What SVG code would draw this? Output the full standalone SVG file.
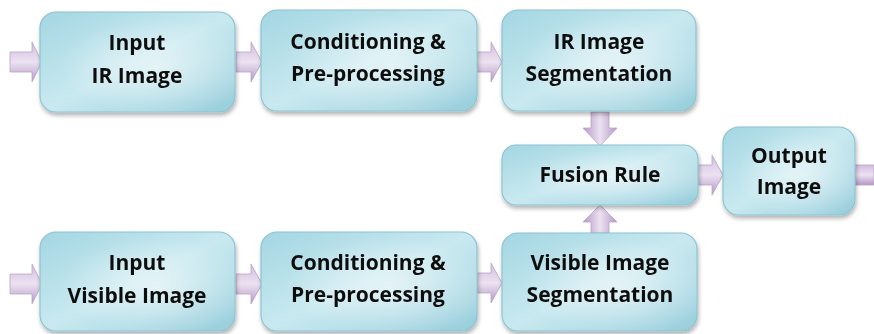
<svg xmlns="http://www.w3.org/2000/svg" width="874" height="334" viewBox="0 0 874 334">
<style>
.box{fill:url(#bg);stroke:#8cc3d0;stroke-width:1.2}
.hl{fill:url(#hl)}
.arr{fill:url(#ag);stroke:#b9a3c8;stroke-width:0.8}
.t{font-family:"Open Sans","Noto Sans",sans-serif;font-weight:700;font-size:21px;fill:#111;text-anchor:middle}
</style>
<defs>
<linearGradient id="bg" x1="0" y1="0" x2="1" y2="1">
<stop offset="0" stop-color="#a3d6e2"/>
<stop offset="0.5" stop-color="#c9e9f0"/>
<stop offset="1" stop-color="#96cddb"/>
</linearGradient>
<radialGradient id="hl" cx="0.6" cy="0.55" r="0.5">
<stop offset="0" stop-color="#ffffff" stop-opacity="0.55"/>
<stop offset="1" stop-color="#ffffff" stop-opacity="0"/>
</radialGradient>
<linearGradient id="ag" x1="0" y1="0" x2="0" y2="1">
<stop offset="0" stop-color="#d2bddf"/>
<stop offset="0.5" stop-color="#ece2f1"/>
<stop offset="1" stop-color="#b597c7"/>
</linearGradient>
<linearGradient id="agv" x1="0" y1="0" x2="1" y2="0">
<stop offset="0" stop-color="#b597c7"/>
<stop offset="0.5" stop-color="#ece2f1"/>
<stop offset="1" stop-color="#b597c7"/>
</linearGradient>
<filter id="sh" x="-10%" y="-10%" width="120%" height="130%">
<feGaussianBlur in="SourceAlpha" stdDeviation="2"/>
<feOffset dx="1" dy="3"/>
<feComponentTransfer><feFuncA type="linear" slope="0.3"/></feComponentTransfer>
<feMerge><feMergeNode/><feMergeNode in="SourceGraphic"/></feMerge>
</filter>
</defs>
<g id="connectors">
<path class="arr" d="M10,52 H32 V42 L42,62 L32,82 V72 H10 Z"/>
<path class="arr" d="M236,52 H251 V42 L262,62 L251,82 V72 H236 Z"/>
<path class="arr" d="M477,52 H491 V42 L502,62 L491,82 V72 H477 Z"/>
<path class="arr" style="fill:url(#agv)" d="M591,112 V128 H583 L600,146 L617,128 H609 V112 Z"/>
<path class="arr" d="M698,165 H712 V155 L723,175 L712,195 V185 H698 Z"/>
<path class="arr" d="M855,165 H874 V185 H855 Z"/>
<path class="arr" style="fill:url(#agv)" d="M591,233 V222 H583 L600,205 L617,222 H609 V233 Z"/>
<path class="arr" d="M10,274 H32 V264 L42,284 L32,304 V294 H10 Z"/>
<path class="arr" d="M236,274 H251 V264 L262,284 L251,304 V294 H236 Z"/>
<path class="arr" d="M477,273 H491 V263 L502,283 L491,303 V293 H477 Z"/>
</g>
<g id="n1" filter="url(#sh)"><rect class="box" x="40" y="12" width="195" height="100" rx="16"/><rect class="hl" x="40" y="12" width="195" height="100" rx="16"/>
<text class="t" x="137" y="50">Input</text><text class="t" x="137" y="83">IR Image</text></g>
<g id="n2" filter="url(#sh)"><rect class="box" x="261" y="10" width="216" height="101" rx="16"/><rect class="hl" x="261" y="10" width="216" height="101" rx="16"/>
<text class="t" x="368" y="49">Conditioning &amp;</text><text class="t" x="368" y="81">Pre-processing</text></g>
<g id="n3" filter="url(#sh)"><rect class="box" x="502" y="10" width="194" height="101" rx="16"/><rect class="hl" x="502" y="10" width="194" height="101" rx="16"/>
<text class="t" x="599" y="49">IR Image</text><text class="t" x="599" y="81">Segmentation</text></g>
<g id="n4" filter="url(#sh)"><rect class="box" x="502" y="145" width="196" height="60" rx="14"/><rect class="hl" x="502" y="145" width="196" height="60" rx="14"/>
<text class="t" x="600" y="182">Fusion Rule</text></g>
<g id="n5" filter="url(#sh)"><rect class="box" x="723" y="127" width="132" height="88" rx="16"/><rect class="hl" x="723" y="127" width="132" height="88" rx="16"/>
<text class="t" x="789" y="163">Output</text><text class="t" x="789" y="194">Image</text></g>
<g id="n6" filter="url(#sh)"><rect class="box" x="40" y="232" width="195" height="99" rx="16"/><rect class="hl" x="40" y="232" width="195" height="99" rx="16"/>
<text class="t" x="137" y="270">Input</text><text class="t" x="137" y="303">Visible Image</text></g>
<g id="n7" filter="url(#sh)"><rect class="box" x="261" y="232" width="216" height="99" rx="16"/><rect class="hl" x="261" y="232" width="216" height="99" rx="16"/>
<text class="t" x="368" y="270">Conditioning &amp;</text><text class="t" x="368" y="302">Pre-processing</text></g>
<g id="n8" filter="url(#sh)"><rect class="box" x="502" y="233" width="195" height="98" rx="16"/><rect class="hl" x="502" y="233" width="195" height="98" rx="16"/>
<text class="t" x="600" y="270">Visible Image</text><text class="t" x="600" y="302">Segmentation</text></g>
</svg>
